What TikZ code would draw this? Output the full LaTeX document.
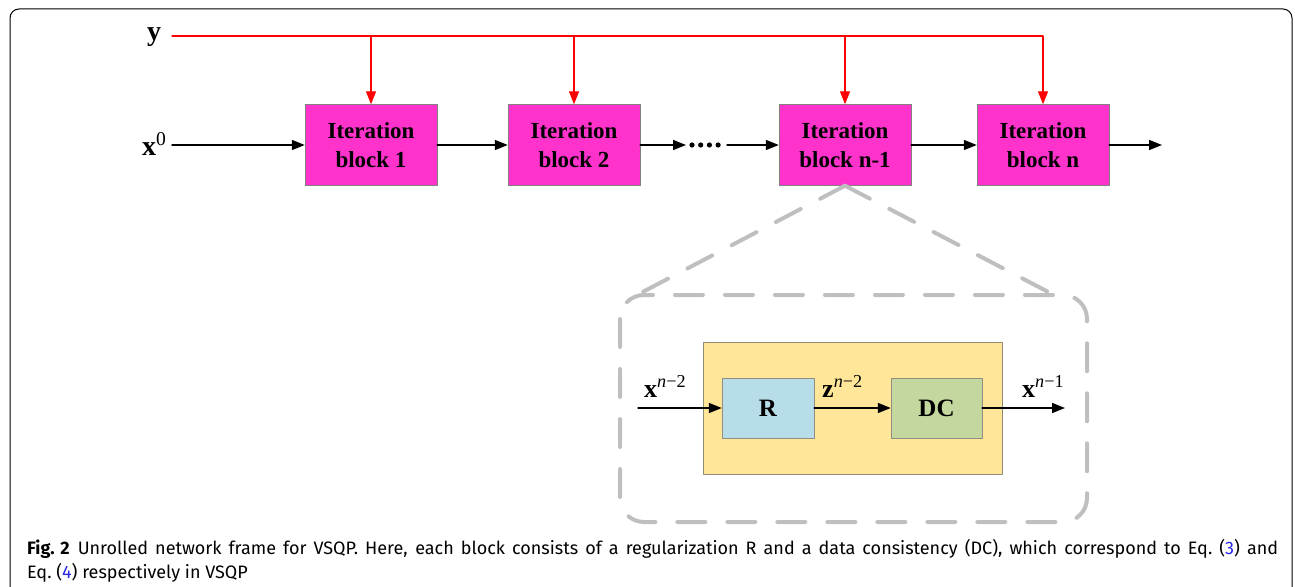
\documentclass[tikz,border=0pt]{standalone}
\usepackage{fontspec}
\usepackage{xcolor}
\usepackage{tikz}
\setmainfont{Liberation Serif}
\newfontfamily\capfont{Fira Sans}
\usetikzlibrary{arrows.meta}
\definecolor{ffqqcc}{RGB}{255,51,204}
\definecolor{ffeebb}{RGB}{255,230,153}
\definecolor{bbddee}{RGB}{183,221,232}
\definecolor{ccddaa}{RGB}{196,215,159}
\definecolor{bfbfbf}{RGB}{191,191,191}
\definecolor{qqqqee}{RGB}{40,40,235}
\tikzstyle{every node}=[font=\bfseries]
\tikzset{
  blk/.style={draw=gray,fill=ffqqcc,minimum width=132pt,minimum height=81pt,inner sep=0pt,align=center,font=\fontsize{23}{29}\selectfont\bfseries},
  sub/.style={draw=gray!90!olive,minimum width=92pt,minimum height=60pt,inner sep=0pt,font=\fontsize{25}{30}\selectfont\bfseries},
  lbl/.style={anchor=base west,inner sep=0pt,font=\fontsize{28}{30}\selectfont\bfseries},
  sublbl/.style={anchor=base west,inner sep=0pt,font=\fontsize{26}{28}\selectfont\bfseries},
  caption/.style={anchor=base west,inner sep=0pt,font=\capfont\fontsize{18}{21}\selectfont\mdseries},
  zoomline/.style={color=bfbfbf,line width=4pt,dash pattern=on 28pt off 22pt}
}

\begin{document}
\begin{tikzpicture}[line cap=round,line join=round,>={Triangle[length=13pt,width=10pt]},x=1pt,y=-1pt]

            \useasboundingbox (0,0) rectangle (1295,586);
            \draw [line width=1pt,rounded corners=9pt] (10,600) -- (10,9) -- (1292,9) -- (1292,600);
            % top chain
            \node[blk] (blk1) at (371,145) {Iteration\\block 1};
            \node[blk] (blk2) at (574,145) {Iteration\\block 2};
            \node[blk] (blkn1) at (845,145) {Iteration\\block n-1};
            \node[blk] (blkn) at (1043,145) {Iteration\\block n};
            \node[lbl] (ylab) at (147,41) {y};
            \node[lbl] (x0lab) at (142,155) {x\textsuperscript{\mdseries 0}};
            \coordinate (ytail) at (172,36);
            \coordinate (xtail) at (172,145);
            \coordinate (dotsL) at (686,145);
            \coordinate (dotsR) at (727,145);
            \coordinate (xout) at (1162,145);
            \draw [->,line width=1.3pt,color=red] (ytail) -- (ytail -| blkn.north) -- (blkn.north);
            \draw [->,line width=1.3pt,color=red] (ytail -| blk1.north) -- (blk1.north);
            \draw [->,line width=1.3pt,color=red] (ytail -| blk2.north) -- (blk2.north);
            \draw [->,line width=1.3pt,color=red] (ytail -| blkn1.north) -- (blkn1.north);
            \draw [->,line width=1.5pt] (xtail) -- (blk1.west);
            \draw [->,line width=1.5pt] (blk1.east) -- (blk2.west);
            \draw [->,line width=1.5pt] (blk2.east) -- (dotsL);
            \foreach \i in {0,...,3}
              \fill (692+\i*8.7,145) circle (2.6pt);
            \draw [->,line width=1.5pt] (dotsR) -- (blkn1.west);
            \draw [->,line width=1.5pt] (blkn1.east) -- (blkn.west);
            \draw [->,line width=1.5pt] (blkn.east) -- (xout);
            % zoomed block
            \draw [zoomline] (blkn1.south) -- (635,296);
            \draw [zoomline] (blkn1.south) -- (1056,296);
            \draw [zoomline,rounded corners=24pt] (620,295) rectangle (1087,522);
            \draw [draw=gray!80!olive,fill=ffeebb] (703,342) rectangle (1002,474);
            \node[sub,fill=bbddee] (R) at (768,408) {R};
            \node[sub,fill=ccddaa,minimum width=91pt] (DC) at (936.5,408) {DC};
            \coordinate (inL) at (638,408);
            \coordinate (outR) at (1065,408);
            \draw [->,line width=1.5pt] (inL) -- (R.west);
            \draw [->,line width=1.5pt] (R.east) -- (DC.west);
            \draw [->,line width=1.5pt] (DC.east) -- (outR);
            \node[sublbl] (xn2) at (644,397) {x\textsuperscript{\mdseries\itshape n\upshape−2}};
            \node[sublbl] (zn2) at (822,397) {z\textsuperscript{\mdseries\itshape n\upshape−2}};
            \node[sublbl] (xn1) at (1022,397) {x\textsuperscript{\mdseries\itshape n\upshape−1}};
            % caption
            \node[caption] (cap1) at (27,554)
              {\makebox[1251pt][s]{\mbox{\textbf{Fig. 2}}\hspace*{8pt}Unrolled network frame for VSQP. Here, each block consists of a regularization R and a data consistency (DC), which correspond to Eq.~({\color{qqqqee}3}) and}};
            \node[caption] (cap2) at (27,578)
              {Eq.~({\color{qqqqee}4}) respectively in VSQP};
\end{tikzpicture}
\end{document}
